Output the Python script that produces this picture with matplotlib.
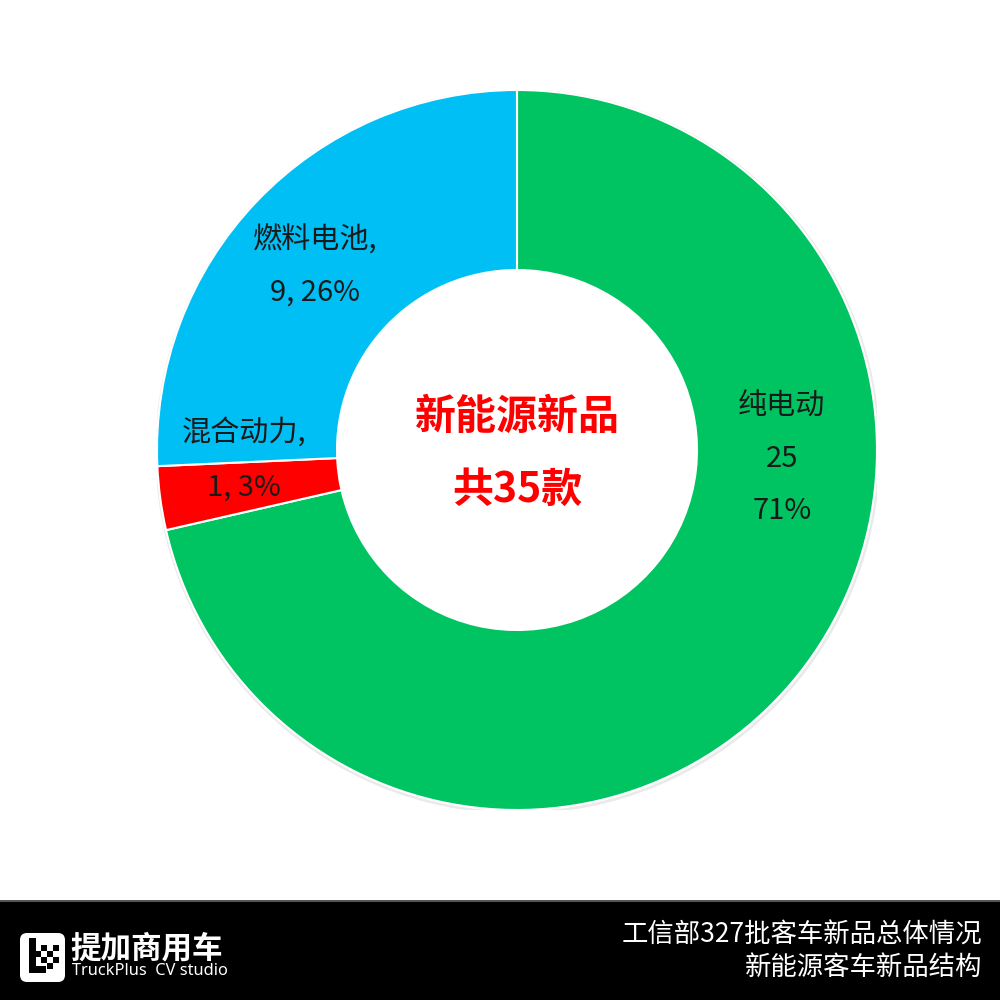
import matplotlib.pyplot as plt
from matplotlib.patches import FancyBboxPatch, Rectangle, Circle

plt.rcParams['font.family'] = ['Noto Sans CJK SC', 'DejaVu Sans']

# data
categories = ['纯电动', '混合动力', '燃料电池']
counts = [25, 1, 9]
percents = ['71%', '3%', '26%']
colors = ['#00C462', '#FF0000', '#00BFF5']
total = sum(counts)

fig = plt.figure(figsize=(10, 10), dpi=100)
fig.patch.set_facecolor('white')

# donut
ax = fig.add_axes([0.157, 0.19, 0.72, 0.72])
# faint shadow ring like the original
ax.add_patch(Circle((0.002, -0.004), 1.003, facecolor='none', edgecolor='#eaeaea', linewidth=2, zorder=0))
wedges, _ = ax.pie(counts, colors=colors, startangle=90, counterclock=False,
                   radius=1, wedgeprops=dict(width=0.5, edgecolor='white', linewidth=1.5))
ax.set_xlim(-1, 1)
ax.set_ylim(-1, 1)
ax.set_aspect('equal')
ax.axis('off')

# data labels
ax.text(0.736, -0.025, f'{categories[0]}\n{counts[0]}\n{percents[0]}', ha='center', va='center',
        fontsize=21, linespacing=1.95, color='#1a1a1a')
ax.text(-0.758, -0.03, f'{categories[1]},\n{counts[1]}, {percents[1]}', ha='center', va='center',
        fontsize=21, linespacing=2.05, color='#1a1a1a')
ax.text(-0.56, 0.51, f'{categories[2]},\n{counts[2]}, {percents[2]}', ha='center', va='center',
        fontsize=21, linespacing=1.95, color='#1a1a1a')

# center text
ax.text(0.0, 0.092, '新能源新品', ha='center', va='center', fontsize=29.5, fontweight='bold', color='#FF0000')
ax.text(0.0, -0.111, f'共{total}款', ha='center', va='center', fontsize=29.5, fontweight='bold', color='#FF0000')

# bottom banner
bax = fig.add_axes([0, 0, 1, 0.1])
bax.set_xlim(0, 1000)
bax.set_ylim(100, 0)
bax.axis('off')
bax.add_patch(Rectangle((0, 0), 1000, 100, facecolor='black', edgecolor='none'))
bax.plot([0, 1000], [1, 1], color='#555555', linewidth=1.5)

# logo
bax.add_patch(FancyBboxPatch((20, 33), 45, 49, boxstyle='round,pad=0,rounding_size=7',
                             facecolor='white', edgecolor='none'))
for (x, y, w, h) in [(29, 38, 7, 34), (29, 66, 17, 7), (41, 45, 6, 6), (47, 51, 6, 6),
                     (41, 57, 6, 6), (53, 57, 6, 6), (47, 63, 6, 6), (35, 51, 6, 6), (53, 45, 6, 6)]:
    bax.add_patch(Rectangle((x, y), w, h, facecolor='black', edgecolor='none'))
bax.text(70, 48, '提加商用车', ha='left', va='center', fontsize=22, fontweight='bold', color='white')
bax.text(72, 71, 'TruckPlus  CV studio', ha='left', va='center', fontsize=11.8, color='white',
         family=['Noto Sans', 'DejaVu Sans'])

bax.text(982, 35, '工信部327批客车新品总体情况', ha='right', va='center', fontsize=19, color='white')
bax.text(982, 67, '新能源客车新品结构', ha='right', va='center', fontsize=19, color='white')

fig.savefig('out.png', dpi=100, facecolor='white')
